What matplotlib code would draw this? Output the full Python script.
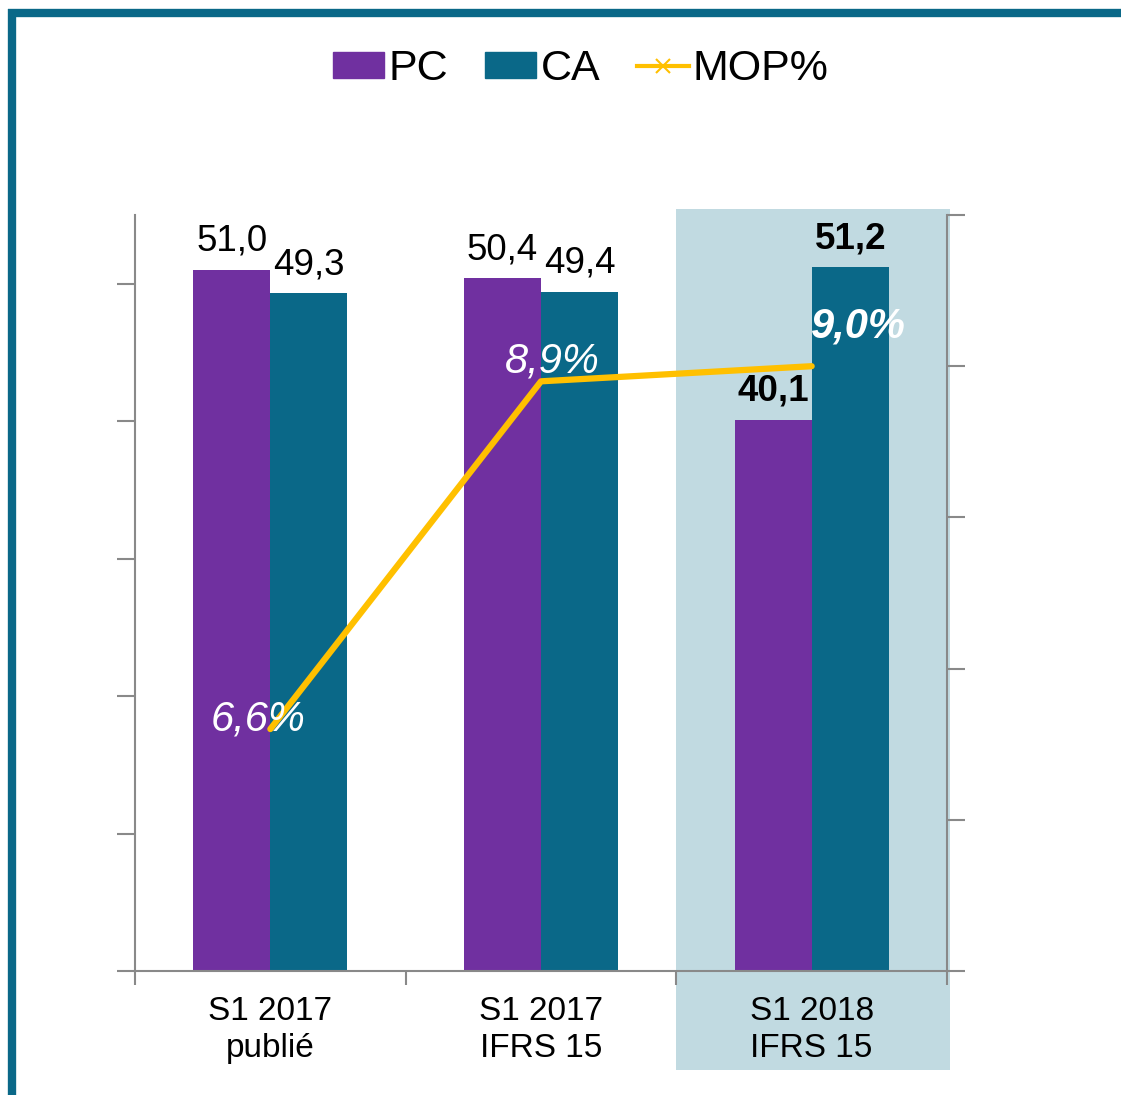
import matplotlib
matplotlib.use('Agg')
import matplotlib.pyplot as plt
import matplotlib.patches as mpatches
import matplotlib.transforms as mtransforms
from matplotlib.lines import Line2D
import numpy as np

plt.rcParams['font.family'] = ['Liberation Sans', 'DejaVu Sans']

# data
categories = ['S1 2017\npublié', 'S1 2017\nIFRS 15', 'S1 2018\nIFRS 15']
pc_values = [51.0, 50.4, 40.1]
ca_values = [49.3, 49.4, 51.2]
mop_values = [6.6, 8.9, 9.0]
pc_labels = ['51,0', '50,4', '40,1']
ca_labels = ['49,3', '49,4', '51,2']
mop_labels = ['6,6%', '8,9%', '9,0%']

PURPLE = '#7030A0'
TEAL = '#0A6888'
YELLOW = '#FFC000'
HILITE = '#C1DAE1'
GRID = '#898989'

fig = plt.figure(figsize=(11.21, 10.95), dpi=100)
ax = fig.add_axes([135 / 1121, 1 - 971 / 1095, (947 - 135) / 1121, (971 - 215) / 1095])

x = np.arange(len(categories))
w = 0.285

# highlighted period (spans below the axis, behind the tick labels)
trans = mtransforms.blended_transform_factory(ax.transData, fig.transFigure)
ax.add_patch(mpatches.Rectangle((1.5, 1 - 1070 / 1095), 1.01, (1070 - 209) / 1095,
                                transform=trans, facecolor=HILITE, edgecolor='none',
                                clip_on=False, zorder=0))

ax.bar(x - w / 2, pc_values, w, color=PURPLE, zorder=2)
ax.bar(x + w / 2, ca_values, w, color=TEAL, zorder=2)

ax.set_xlim(-0.5, 2.5)
ax.set_ylim(0, 55)
ax.set_yticks(np.arange(0, 51, 10))
ax.set_yticklabels([])
ax.set_xticks([-0.5, 0.5, 1.5, 2.5])
ax.set_xticklabels([])
ax.set_xticks(x, minor=True)
ax.set_xticklabels(categories, minor=True, fontsize=24, linespacing=1.25)
ax.tick_params(axis='x', which='minor', length=0, pad=18)
ax.tick_params(axis='x', which='major', length=10, color=GRID, width=1.5, direction='out')
ax.tick_params(axis='y', length=13, color=GRID, width=1.5, direction='out')
ax.patch.set_visible(False)
for s in ['top', 'right']:
    ax.spines[s].set_visible(False)
for s in ['left', 'bottom']:
    ax.spines[s].set_color(GRID)
    ax.spines[s].set_linewidth(1.5)

for i in range(len(categories)):
    bold = 'bold' if i == 2 else 'normal'
    ax.annotate(pc_labels[i], (x[i] - w / 2, pc_values[i]), xytext=(0, 11),
                textcoords='offset pixels', ha='center', va='bottom',
                fontsize=26.5, fontweight=bold, zorder=5)
    ax.annotate(ca_labels[i], (x[i] + w / 2, ca_values[i]), xytext=(0, 11),
                textcoords='offset pixels', ha='center', va='bottom',
                fontsize=26.5, fontweight=bold, zorder=5)

# MOP% on secondary axis
ax2 = ax.twinx()
ax2.set_ylim(5, 10)
ax2.set_yticks(np.arange(5, 10.1, 1))
ax2.set_yticklabels([])
ax2.tick_params(axis='y', length=13, color=GRID, width=1.5, direction='out')
for s in ['top', 'left', 'bottom']:
    ax2.spines[s].set_visible(False)
ax2.spines['right'].set_color(GRID)
ax2.spines['right'].set_linewidth(1.5)

ax2.plot(x, mop_values, color=YELLOW, linewidth=4.5, solid_capstyle='round',
         solid_joinstyle='round', zorder=3)

mop_offsets = [(-12, 10), (11, 20), (46, 40)]
for i in range(len(categories)):
    ax2.annotate(mop_labels[i], (x[i], mop_values[i]), xytext=mop_offsets[i],
                 textcoords='offset pixels', ha='center', va='center',
                 fontsize=30, style='italic', color='white',
                 fontweight='bold' if i == 2 else 'normal', zorder=5)

handles = [mpatches.Patch(color=PURPLE, label='PC'),
           mpatches.Patch(color=TEAL, label='CA'),
           Line2D([], [], color=YELLOW, linewidth=3, marker='x', markersize=10,
                  markeredgewidth=1.5, label='MOP%')]
fig.legend(handles=handles, loc='center', bbox_to_anchor=(0.518, 1 - 69 / 1095), ncol=3,
           frameon=False, fontsize=31, handlelength=1.2, handleheight=0.55,
           handletextpad=0.1, columnspacing=0.85, borderpad=0)

# slide frame (top and left teal bars)
fig.add_artist(Line2D([8 / 1121, 1], [1 - 13 / 1095, 1 - 13 / 1095],
                      transform=fig.transFigure, color=TEAL, linewidth=6, solid_capstyle='butt'))
fig.add_artist(Line2D([12 / 1121, 12 / 1121], [0, 1 - 9 / 1095],
                      transform=fig.transFigure, color=TEAL, linewidth=6, solid_capstyle='butt'))

fig.savefig('out.png', dpi=100)
